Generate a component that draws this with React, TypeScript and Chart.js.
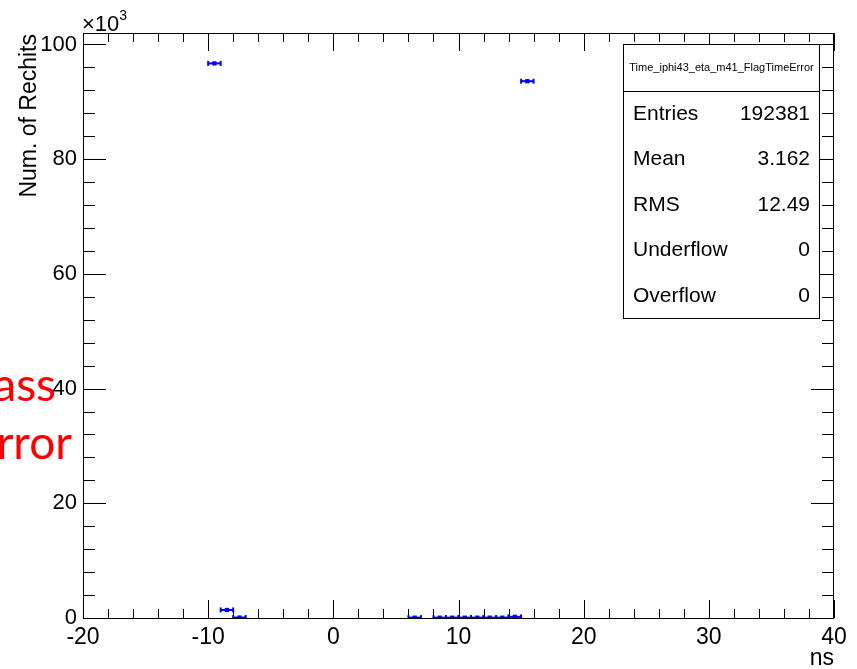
import React, { useEffect, useRef } from 'react';
import { Chart, registerables } from 'chart.js';

Chart.register(...registerables);

// ---- data (counts in units of 10^3) ----
const binLowEdges = [-10, -9, -8, 6, 8, 9, 10, 11, 12, 13, 14, 15];
const binWidth = 1;
const binCounts = [96.7, 1.4, 0.08, 0.06, 0.06, 0.06, 0.06, 0.06, 0.06, 0.06, 0.2, 93.6];

const xMin = -20;
const xMax = 40;
const xMajorTicks = [-20, -10, 0, 10, 20, 30, 40];
const xMajorStep = 10;
const xMinorStep = 2;
const yMin = 0;
const yMax = 102;
const yMajorTicks = [0, 20, 40, 60, 80, 100];
const yMajorStep = 20;
const yMinorStep = 4;

const histName = 'Time_iphi43_eta_m41_FlagTimeError';
const statLabels = ['Entries', 'Mean', 'RMS', 'Underflow', 'Overflow'];
const statValues = ['192381', '3.162', '12.49', '0', '0'];

const yTitle = 'Num. of Rechits';
const xTitle = 'ns';
const redLines = ['ass', 'rror'];

const BLUE = 'rgb(0,0,255)';
const FONT = '"Liberation Sans", Arial, sans-serif';

const rootPlugin = {
  id: 'rootStyle',
  beforeDraw(chart: any) {
    const ctx = chart.ctx;
    ctx.save();
    ctx.fillStyle = '#fff';
    ctx.fillRect(0, 0, chart.width, chart.height);
    // overlapping red slide text
    ctx.fillStyle = 'rgb(255,0,0)';
    ctx.font = '46px Lato, "Open Sans", sans-serif';
    ctx.textAlign = 'right';
    ctx.textBaseline = 'alphabetic';
    ctx.fillText(redLines[0], 56, 401);
    ctx.fillText(redLines[1], 72, 459);
    ctx.restore();
  },
  beforeDatasetsDraw(chart: any) {
    const ctx = chart.ctx;
    const { left, right, top, bottom } = chart.chartArea;
    const xs = chart.scales.x;
    const ys = chart.scales.y;
    ctx.save();
    ctx.strokeStyle = '#000';
    ctx.lineWidth = 1;
    ctx.beginPath();
    for (let v = xMin; v <= xMax + 1e-9; v += xMinorStep) {
      const px = Math.round(xs.getPixelForValue(v)) + 0.5;
      const major = Math.abs(v % xMajorStep) < 1e-9;
      const len = major ? 18 : 9;
      ctx.moveTo(px, bottom);
      ctx.lineTo(px, bottom - len);
      ctx.moveTo(px, top);
      ctx.lineTo(px, top + len);
    }
    for (let v = yMin; v <= yMax + 1e-9; v += yMinorStep) {
      const py = Math.round(ys.getPixelForValue(v)) + 0.5;
      const major = Math.abs(v % yMajorStep) < 1e-9;
      const len = major ? 23 : 12;
      ctx.moveTo(left, py);
      ctx.lineTo(left + len, py);
      ctx.moveTo(right, py);
      ctx.lineTo(right - len, py);
    }
    ctx.stroke();
    ctx.strokeRect(Math.round(left) + 0.5, Math.round(top) + 0.5, Math.round(right - left) - 1, Math.round(bottom - top));
    ctx.restore();
  },
  afterDraw(chart: any) {
    const ctx = chart.ctx;
    const { right, top } = chart.chartArea;
    ctx.save();
    ctx.fillStyle = '#000';
    // y title
    ctx.save();
    ctx.translate(36, 34);
    ctx.rotate(-Math.PI / 2);
    ctx.font = '23px ' + FONT;
    ctx.textAlign = 'right';
    ctx.textBaseline = 'alphabetic';
    ctx.fillText(yTitle, 0, 0);
    ctx.restore();
    // x title
    ctx.font = '23px ' + FONT;
    ctx.textAlign = 'right';
    ctx.textBaseline = 'alphabetic';
    ctx.fillText(xTitle, right, 665);
    // x10^3
    ctx.textAlign = 'left';
    ctx.font = '22px ' + FONT;
    ctx.fillText('\u00d710', 82, 31);
    const w = ctx.measureText('\u00d710').width;
    ctx.font = '14px ' + FONT;
    ctx.fillText('3', 82 + w, 20);
    // stats box
    const bx = 623.5, by = top + 11.5, bw = 196, bh = 274;
    ctx.fillStyle = '#fff';
    ctx.fillRect(bx, by, bw, bh);
    ctx.strokeStyle = '#000';
    ctx.lineWidth = 1;
    ctx.strokeRect(bx, by, bw, bh);
    ctx.beginPath();
    ctx.moveTo(bx, 91.5);
    ctx.lineTo(bx + bw, 91.5);
    ctx.stroke();
    ctx.fillStyle = '#000';
    ctx.font = '11px ' + FONT;
    ctx.textAlign = 'center';
    ctx.textBaseline = 'middle';
    ctx.fillText(histName, bx + bw / 2, 68);
    ctx.font = '21px ' + FONT;
    statLabels.forEach((lab, i) => {
      const cy = 114 + i * 45.5;
      ctx.textAlign = 'left';
      ctx.fillText(lab, 633, cy);
      ctx.textAlign = 'right';
      ctx.fillText(statValues[i], 810, cy);
    });
    ctx.restore();
  },
};

export default function App() {
  const ref = useRef<HTMLCanvasElement | null>(null);
  useEffect(() => {
    if (!ref.current) return;
    const datasets: any[] = binLowEdges.map((lo, i) => ({
      data: [
        { x: lo, y: binCounts[i] },
        { x: lo + binWidth, y: binCounts[i] },
      ],
      showLine: true,
      borderColor: BLUE,
      backgroundColor: BLUE,
      borderWidth: 2,
      pointStyle: 'line',
      rotation: 90,
      pointRadius: 2.5,
      pointBorderWidth: 2,
      pointBorderColor: BLUE,
    }));
    datasets.push({
      data: binLowEdges.map((lo, i) => ({ x: lo + binWidth / 2, y: binCounts[i] })),
      showLine: false,
      pointStyle: 'rect',
      pointRadius: 3,
      pointBorderWidth: 0,
      backgroundColor: BLUE,
      borderColor: BLUE,
    });
    const chart = new Chart(ref.current, {
      type: 'scatter',
      data: { datasets },
      plugins: [rootPlugin],
      options: {
        animation: false,
        responsive: false,
        devicePixelRatio: 1,
        layout: { padding: { top: 33, right: 23, left: 0, bottom: 0 } },
        plugins: { legend: { display: false }, tooltip: { enabled: false } },
        scales: {
          x: {
            type: 'linear',
            min: xMin,
            max: xMax,
            grid: { display: false, drawTicks: false },
            border: { display: false },
            afterBuildTicks: (s: any) => { s.ticks = xMajorTicks.map((v) => ({ value: v })); },
            ticks: {
              autoSkip: false,
              maxRotation: 0,
              padding: 6,
              color: '#000',
              font: { family: FONT, size: 23 },
              callback: (v: any) => String(v),
            },
            afterFit: (s: any) => { s.height = 51; },
          },
          y: {
            type: 'linear',
            min: yMin,
            max: yMax,
            grid: { display: false, drawTicks: false },
            border: { display: false },
            afterBuildTicks: (s: any) => { s.ticks = yMajorTicks.map((v) => ({ value: v })); },
            ticks: {
              autoSkip: false,
              padding: 6,
              color: '#000',
              font: { family: FONT, size: 22 },
              callback: (v: any) => String(v),
            },
            afterFit: (s: any) => { s.width = 83; },
          },
        },
      },
    });
    return () => chart.destroy();
  }, []);
  return (
    <canvas
      ref={ref}
      width={857}
      height={669}
      style={{ position: 'fixed', left: 0, top: 0, width: 857, height: 669 }}
    />
  );
}
